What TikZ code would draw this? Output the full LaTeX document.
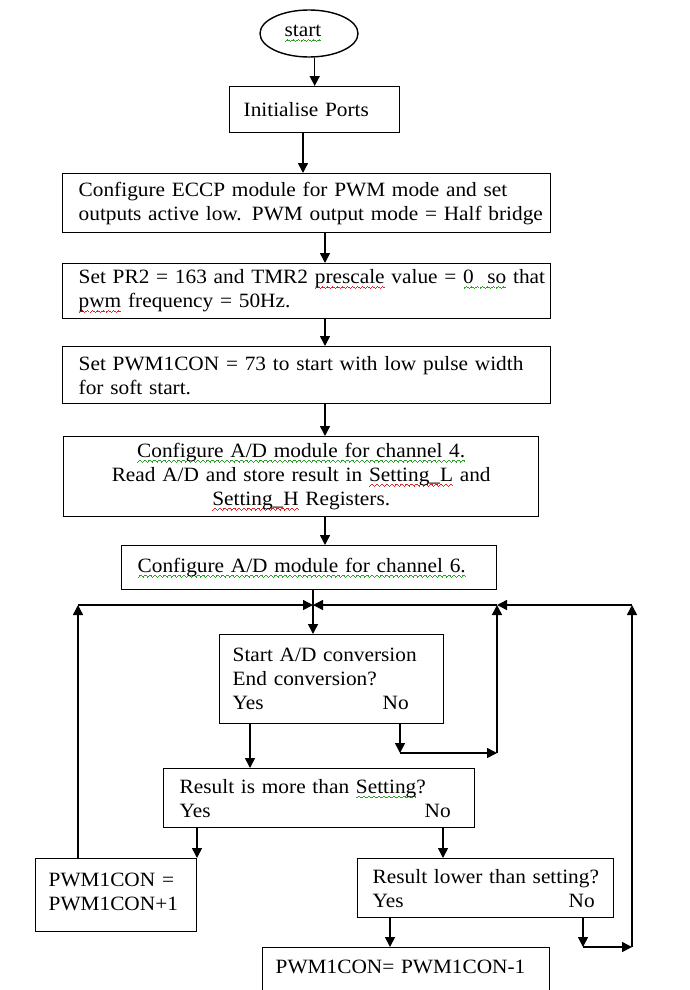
\documentclass[tikz,border=0pt]{standalone}
\usepackage{fontspec}
\setmainfont{Liberation Serif}[FakeStretch=1.05]
\usetikzlibrary{arrows.meta,shapes.geometric}

\definecolor{spellred}{RGB}{225,35,35}
\definecolor{grammargreen}{RGB}{40,160,40}

% wavy proof-reading underline built from tiny rules: \wavy{colour}{words}
\newsavebox{\wavybox}
\newcommand{\wavestep}[1]{\rule[#1]{0.8pt}{0.9pt}}
\newcommand{\wavy}[2]{\sbox{\wavybox}{#2}\leavevmode
  \rlap{\hbox to \wd\wavybox{\color{#1}%
    \xleaders\hbox{\wavestep{-5.2pt}\wavestep{-4.6pt}\wavestep{-4pt}\wavestep{-3.4pt}%
                   \wavestep{-4pt}\wavestep{-4.6pt}}\hfill}}\usebox{\wavybox}}
\newcommand{\redwave}[1]{\wavy{spellred}{#1}}
\newcommand{\greenwave}[1]{\wavy{grammargreen}{#1}}

\tikzset{
  txt/.style={font=\fontsize{20.3}{24}\selectfont},
  box/.style={txt, draw, line width=1.4pt, rectangle, anchor=north west,
              inner ysep=2pt, align=left},
  link/.style={line width=1.5pt, -{Triangle[length=10pt,width=10pt]}},
  plain/.style={line width=1.5pt}
}

\begin{document}
\begin{tikzpicture}[x=1pt,y=-1pt]
\useasboundingbox (0,0) rectangle (690,990);
\clip (0,0) rectangle (690,990);

% terminal
\node[txt, ellipse, draw, line width=1.4pt, minimum width=98pt,
      minimum height=47pt, inner sep=0pt] (start) at (309,33.5) {\greenwave{start}\hspace*{12pt}};

% process steps
\node[box, text width=142pt, inner xsep=14pt, minimum height=46pt] (init) at (229,86)
  {Initialise Ports};
\node[box, text width=456pt, inner xsep=16pt, minimum height=59pt] (eccp) at (62,173)
  {\mbox{Configure ECCP module for PWM mode and set}\\
   \mbox{outputs active low. PWM output mode = Half bridge}};
\node[box, text width=456pt, inner xsep=16pt, minimum height=55pt] (pr2) at (62,263)
  {\mbox{Set PR2 = 163 and TMR2 \redwave{prescale} value = \greenwave{0\ \ so} that}\\
   \mbox{\redwave{pwm} frequency = 50Hz.}};
\node[box, text width=456pt, inner xsep=16pt, minimum height=57pt] (soft) at (62,346)
  {\mbox{Set PWM1CON = 73 to start with low pulse width}\\
   \mbox{for soft start.}};
\node[box, align=center, text width=455pt, inner xsep=10pt, minimum height=80pt] (ad4) at (63,436)
  {\mbox{\greenwave{Configure A/D module for channel 4.}}\\
   \mbox{Read A/D and store result in \redwave{Setting\_L} and}\\
   \mbox{\redwave{Setting\_H} Registers.}};
\node[box, text width=343pt, inner xsep=16pt, minimum height=44pt] (ad6) at (121,545)
  {\mbox{\greenwave{Configure A/D module for channel 6.}}};

% decisions
\node[box, text width=198pt, inner xsep=13pt, minimum height=89pt] (conv) at (219,634)
  {\mbox{Start A/D conversion}\\
   \mbox{End conversion?}\\
   \mbox{\makebox[150pt][l]{Yes}No}};
\node[box, text width=279pt, inner xsep=16pt, minimum height=59pt] (more) at (163,768)
  {\mbox{Result is more than \greenwave{Setting}?}\\
   \mbox{\makebox[245pt][l]{Yes}No}};
\node[box, text width=226pt, inner xsep=15pt, minimum height=59pt] (less) at (357,858)
  {\mbox{Result lower than setting?}\\
   \mbox{\makebox[196pt][l]{Yes}No}};

% pulse width updates
\node[box, text width=135pt, inner xsep=13pt, minimum height=73pt, text depth=31pt] (inc) at (35,858)
  {\mbox{PWM1CON =}\\
   \mbox{PWM1CON+1}};
\node[box, text width=261pt, inner xsep=13pt, text height=24pt, text depth=36pt] (dec) at (262,947)
  {\mbox{PWM1CON= PWM1CON-1}};

% columns and corners of the connector routes
\coordinate (c303) at (303,0);
\coordinate (c325) at (325,0);
\coordinate (J)    at (313,605);
\coordinate (Lc)   at (78,605);
\coordinate (R1top) at (497,605);
\coordinate (R1bot) at (497,753);
\coordinate (N1)   at (400,753);
\coordinate (R2top) at (632,605);
\coordinate (R2bot) at (632,947);
\coordinate (N3)   at (583,947);
\coordinate (cy)   at (250,0);
\coordinate (my)   at (197,0);
\coordinate (mn)   at (443,0);
\coordinate (ly)   at (390,0);

% main sequence
\draw[link] (start.south -| init.north) -- (init.north);
\draw[link] (init.south -| c303) -- (eccp.north -| c303);
\draw[link] (eccp.south -| c325) -- (pr2.north -| c325);
\draw[link] (pr2.south -| c325) -- (soft.north -| c325);
\draw[link] (soft.south -| c325) -- (ad4.north -| c325);
\draw[link] (ad4.south -| c325) -- (ad6.north -| c325);
\draw[plain] (ad6.south -| J) -- (J);
\draw[link] (J) -- (conv.north -| J);

% conversion wait loop
\draw[link] (conv.south -| N1) -- (N1);
\draw[link] (N1) -- (R1bot);
\draw[link] (R1bot) -- (R1top);
\draw[link] (R1top) -- (J);

% comparison branches
\draw[link] (conv.south -| cy) -- (more.north -| cy);
\draw[link] (more.south -| my) -- (inc.north -| my);
\draw[link] (more.south -| mn) -- (less.north -| mn);
\draw[link] (less.south -| ly) -- (dec.north -| ly);

% increment loop back
\draw[link] (inc.north -| Lc) -- (Lc);
\draw[link] (Lc) -- (J);

% no-change loop back
\draw[link] (less.south -| N3) -- (N3);
\draw[link] (N3) -- (R2bot);
\draw[link] (R2bot) -- (R2top);
\draw[link] (R2top) -- (R1top);
\end{tikzpicture}
\end{document}
